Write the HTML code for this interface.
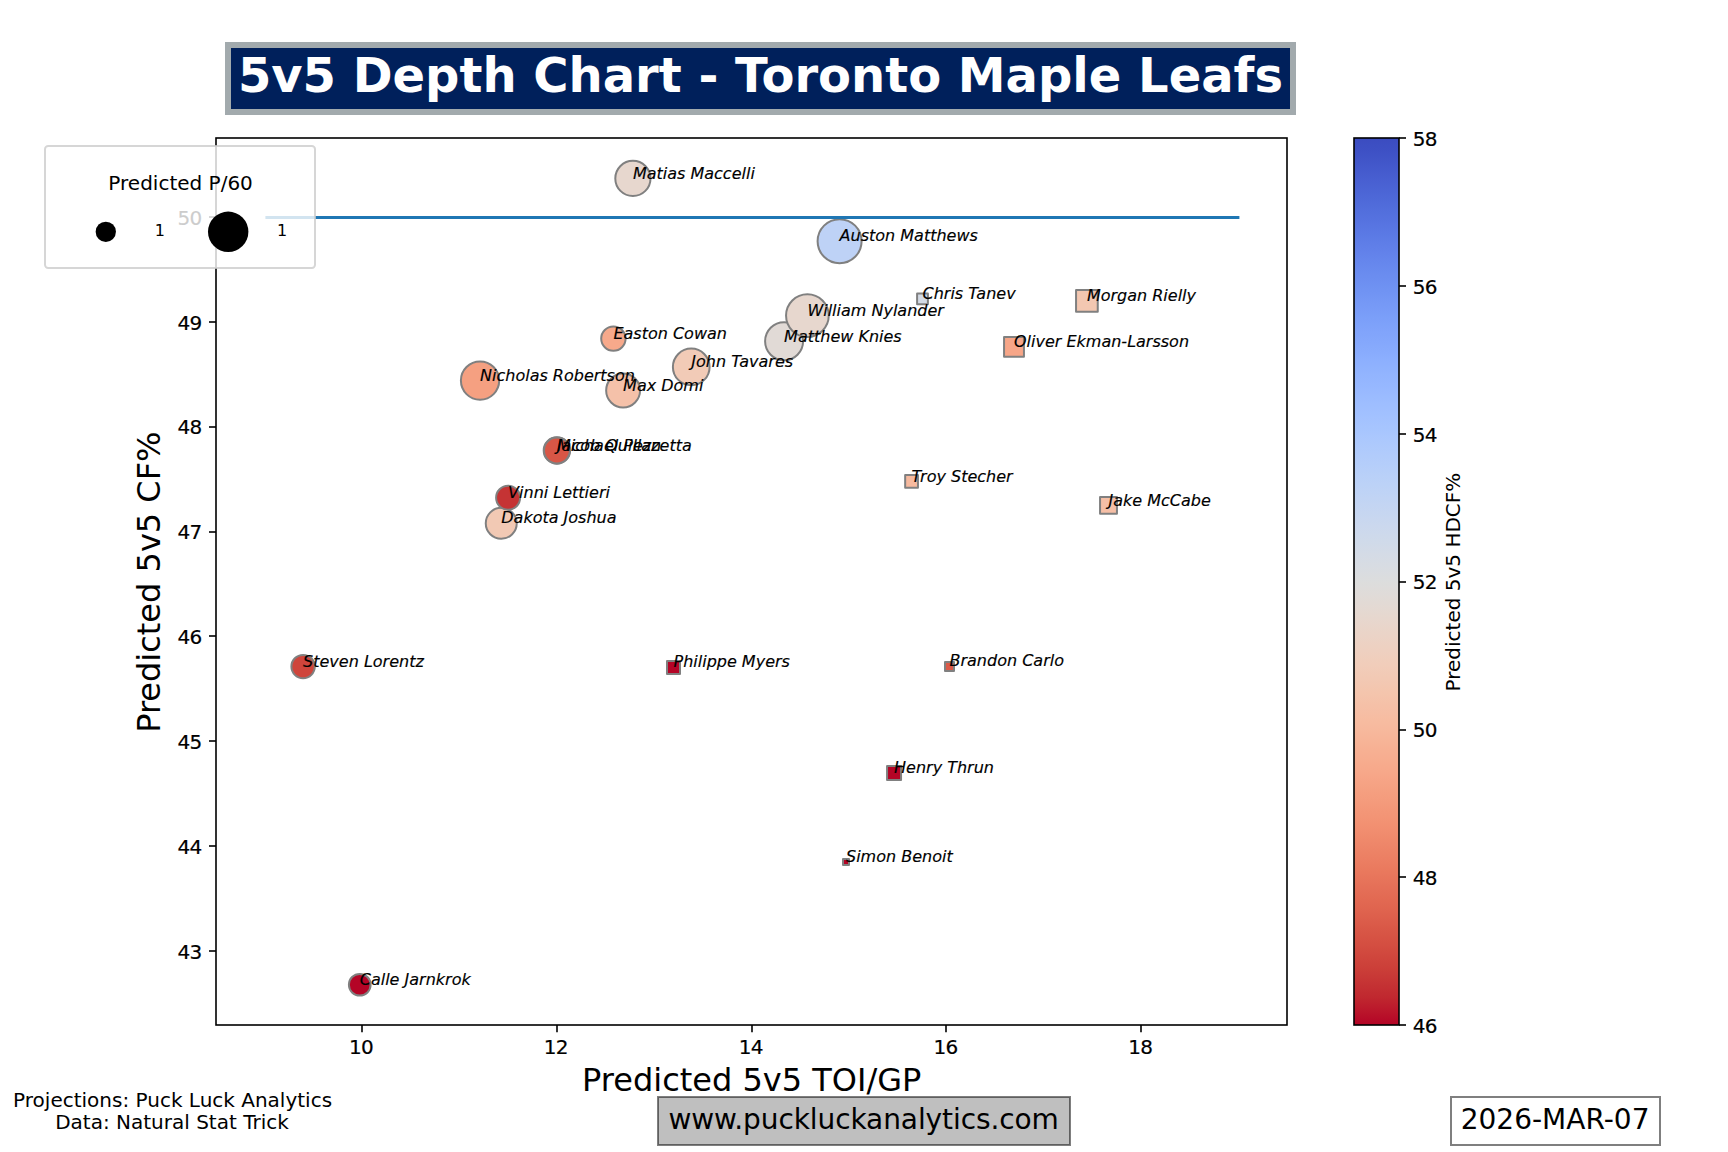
<!DOCTYPE html>
<html><head><meta charset="utf-8"><title>5v5 Depth Chart - Toronto Maple Leafs</title>
<style>html,body{margin:0;padding:0;background:#fff}svg{display:block}</style></head>
<body>
<svg width="1728" height="1152" viewBox="0 0 1728 1152" font-family="'DejaVu Sans','Liberation Sans',sans-serif">
<rect width="1728" height="1152" fill="#fff"/>
<defs><linearGradient id="cb" x1="0" y1="0" x2="0" y2="1"><stop offset="0.0000" stop-color="#3b4cc0"/><stop offset="0.0156" stop-color="#3e51c5"/><stop offset="0.0312" stop-color="#4358cb"/><stop offset="0.0469" stop-color="#485fd1"/><stop offset="0.0625" stop-color="#4c66d6"/><stop offset="0.0781" stop-color="#516ddb"/><stop offset="0.0938" stop-color="#5673e0"/><stop offset="0.1094" stop-color="#5b7ae5"/><stop offset="0.1250" stop-color="#6180e9"/><stop offset="0.1406" stop-color="#6687ed"/><stop offset="0.1562" stop-color="#6b8df0"/><stop offset="0.1719" stop-color="#7093f3"/><stop offset="0.1875" stop-color="#7699f6"/><stop offset="0.2031" stop-color="#7b9ff9"/><stop offset="0.2188" stop-color="#81a4fb"/><stop offset="0.2344" stop-color="#86a9fc"/><stop offset="0.2500" stop-color="#8caffe"/><stop offset="0.2656" stop-color="#92b4fe"/><stop offset="0.2812" stop-color="#97b8ff"/><stop offset="0.2969" stop-color="#9dbdff"/><stop offset="0.3125" stop-color="#a2c1ff"/><stop offset="0.3281" stop-color="#a7c5fe"/><stop offset="0.3438" stop-color="#adc9fd"/><stop offset="0.3594" stop-color="#b2ccfb"/><stop offset="0.3750" stop-color="#b7cff9"/><stop offset="0.3906" stop-color="#bcd2f7"/><stop offset="0.4062" stop-color="#c1d4f4"/><stop offset="0.4219" stop-color="#c6d6f1"/><stop offset="0.4375" stop-color="#cbd8ee"/><stop offset="0.4531" stop-color="#cfdaea"/><stop offset="0.4688" stop-color="#d4dbe6"/><stop offset="0.4844" stop-color="#d8dce2"/><stop offset="0.5000" stop-color="#dcdddd"/><stop offset="0.5156" stop-color="#e0dbd8"/><stop offset="0.5312" stop-color="#e4d9d2"/><stop offset="0.5469" stop-color="#e8d6cc"/><stop offset="0.5625" stop-color="#ebd3c6"/><stop offset="0.5781" stop-color="#eed0c0"/><stop offset="0.5938" stop-color="#f1cdba"/><stop offset="0.6094" stop-color="#f2c9b4"/><stop offset="0.6250" stop-color="#f4c5ad"/><stop offset="0.6406" stop-color="#f5c0a7"/><stop offset="0.6562" stop-color="#f7bca1"/><stop offset="0.6719" stop-color="#f7b79b"/><stop offset="0.6875" stop-color="#f7b194"/><stop offset="0.7031" stop-color="#f7ac8e"/><stop offset="0.7188" stop-color="#f7a688"/><stop offset="0.7344" stop-color="#f5a081"/><stop offset="0.7500" stop-color="#f49a7b"/><stop offset="0.7656" stop-color="#f39475"/><stop offset="0.7812" stop-color="#f18d6f"/><stop offset="0.7969" stop-color="#ee8669"/><stop offset="0.8125" stop-color="#ec7f63"/><stop offset="0.8281" stop-color="#e9785d"/><stop offset="0.8438" stop-color="#e57058"/><stop offset="0.8594" stop-color="#e26952"/><stop offset="0.8750" stop-color="#de614d"/><stop offset="0.8906" stop-color="#d95847"/><stop offset="0.9062" stop-color="#d55042"/><stop offset="0.9219" stop-color="#d0473d"/><stop offset="0.9375" stop-color="#cb3e38"/><stop offset="0.9531" stop-color="#c53334"/><stop offset="0.9688" stop-color="#c0282f"/><stop offset="0.9844" stop-color="#ba162b"/><stop offset="1.0000" stop-color="#b40426"/></linearGradient></defs>
<circle cx="632.9" cy="178.4" r="17.60" fill="#e7d7ce" stroke="#808080" stroke-width="2"/>
<circle cx="839.6" cy="241.2" r="22.00" fill="#bed2f6" stroke="#808080" stroke-width="2"/>
<circle cx="784.1" cy="341.25" r="19.00" fill="#e1dad6" stroke="#808080" stroke-width="2"/>
<circle cx="807.4" cy="315.6" r="21.35" fill="#e7d7ce" stroke="#808080" stroke-width="2"/>
<circle cx="613.4" cy="338.6" r="12.20" fill="#f7a98b" stroke="#808080" stroke-width="2"/>
<circle cx="691.25" cy="366.9" r="18.35" fill="#f2cbb7" stroke="#808080" stroke-width="2"/>
<circle cx="480.05" cy="380.6" r="19.15" fill="#f5a081" stroke="#808080" stroke-width="2"/>
<circle cx="623.1" cy="390.5" r="16.95" fill="#f5c1a9" stroke="#808080" stroke-width="2"/>
<circle cx="556.9" cy="450.5" r="13.20" fill="#d85646" stroke="#808080" stroke-width="2"/>
<circle cx="556.9" cy="450.5" r="12.90" fill="#d85646" stroke="#808080" stroke-width="2"/>
<circle cx="501.25" cy="523.3" r="15.50" fill="#f2c9b4" stroke="#808080" stroke-width="2"/>
<circle cx="508.1" cy="497.7" r="12.00" fill="#c53334" stroke="#808080" stroke-width="2"/>
<circle cx="303.1" cy="666.6" r="11.70" fill="#cf453c" stroke="#808080" stroke-width="2"/>
<circle cx="359.75" cy="984.75" r="10.85" fill="#b40426" stroke="#808080" stroke-width="2"/>
<rect x="917.10" y="293.50" width="10.80" height="10.80" fill="#d4dbe6" stroke="#808080" stroke-width="2" stroke-linejoin="round"/>
<rect x="1076.05" y="290.05" width="21.70" height="21.70" fill="#f3c7b1" stroke="#808080" stroke-width="2" stroke-linejoin="round"/>
<rect x="1004.05" y="336.95" width="19.90" height="19.90" fill="#f7a688" stroke="#808080" stroke-width="2" stroke-linejoin="round"/>
<rect x="905.16" y="475.00" width="12.80" height="12.80" fill="#f7ba9f" stroke="#808080" stroke-width="2" stroke-linejoin="round"/>
<rect x="1100.05" y="496.95" width="16.90" height="16.90" fill="#f6bfa6" stroke="#808080" stroke-width="2" stroke-linejoin="round"/>
<rect x="667.00" y="661.00" width="13.00" height="13.00" fill="#b40426" stroke="#808080" stroke-width="2" stroke-linejoin="round"/>
<rect x="945.00" y="661.90" width="9.00" height="9.00" fill="#da5a49" stroke="#808080" stroke-width="2" stroke-linejoin="round"/>
<rect x="887.05" y="766.00" width="14.00" height="14.00" fill="#b40426" stroke="#808080" stroke-width="2" stroke-linejoin="round"/>
<rect x="843.00" y="858.90" width="6.00" height="6.00" fill="#b40426" stroke="#808080" stroke-width="2" stroke-linejoin="round"/>
<line x1="265.4" y1="217.5" x2="1239.4" y2="217.5" stroke="#1f77b4" stroke-width="3"/>
<g font-size="16" font-style="italic" fill="#000" stroke="#000" stroke-width="0.15">
<text x="632.90" y="179">Matias Maccelli</text>
<text x="839.60" y="241">Auston Matthews</text>
<text x="784.10" y="342">Matthew Knies</text>
<text x="807.40" y="316">William Nylander</text>
<text x="613.40" y="339">Easton Cowan</text>
<text x="691.25" y="367">John Tavares</text>
<text x="480.05" y="381">Nicholas Robertson</text>
<text x="623.10" y="391">Max Domi</text>
<text x="556.90" y="451">Jacob Quillan</text>
<text x="556.90" y="451">Michael Pezzetta</text>
<text x="501.25" y="523">Dakota Joshua</text>
<text x="508.10" y="498">Vinni Lettieri</text>
<text x="303.10" y="667">Steven Lorentz</text>
<text x="359.75" y="985">Calle Jarnkrok</text>
<text x="922.50" y="299">Chris Tanev</text>
<text x="1086.90" y="301">Morgan Rielly</text>
<text x="1014.00" y="347">Oliver Ekman-Larsson</text>
<text x="911.56" y="482">Troy Stecher</text>
<text x="1108.50" y="506">Jake McCabe</text>
<text x="673.50" y="667">Philippe Myers</text>
<text x="949.50" y="666">Brandon Carlo</text>
<text x="894.05" y="773">Henry Thrun</text>
<text x="846.00" y="862">Simon Benoit</text>
</g>
<rect x="216" y="138" width="1071" height="887" fill="none" stroke="#000" stroke-width="1.6"/>
<g stroke="#000" stroke-width="1.6">
<line x1="362" y1="1025" x2="362" y2="1032.3"/>
<line x1="557" y1="1025" x2="557" y2="1032.3"/>
<line x1="752" y1="1025" x2="752" y2="1032.3"/>
<line x1="946" y1="1025" x2="946" y2="1032.3"/>
<line x1="1141" y1="1025" x2="1141" y2="1032.3"/>
<line x1="216" y1="951" x2="209" y2="951"/>
<line x1="216" y1="846" x2="209" y2="846"/>
<line x1="216" y1="741" x2="209" y2="741"/>
<line x1="216" y1="636" x2="209" y2="636"/>
<line x1="216" y1="532" x2="209" y2="532"/>
<line x1="216" y1="427" x2="209" y2="427"/>
<line x1="216" y1="322" x2="209" y2="322"/>
<line x1="216" y1="217" x2="209" y2="217"/>
</g>
<g font-size="20" fill="#000" letter-spacing="-0.7" stroke="#000" stroke-width="0.2">
<text x="361.09" y="1054" text-anchor="middle">10</text>
<text x="555.89" y="1054" text-anchor="middle">12</text>
<text x="750.68" y="1054" text-anchor="middle">14</text>
<text x="945.47" y="1054" text-anchor="middle">16</text>
<text x="1140.27" y="1054" text-anchor="middle">18</text>
<text x="201.5" y="959" text-anchor="end">43</text>
<text x="201.5" y="854" text-anchor="end">44</text>
<text x="201.5" y="749" text-anchor="end">45</text>
<text x="201.5" y="644" text-anchor="end">46</text>
<text x="201.5" y="539" text-anchor="end">47</text>
<text x="201.5" y="434" text-anchor="end">48</text>
<text x="201.5" y="330" text-anchor="end">49</text>
<text x="201.5" y="225" text-anchor="end">50</text>
</g>
<text x="751.68" y="1090.6" font-size="32" text-anchor="middle">Predicted 5v5 TOI/GP</text>
<text transform="translate(159.8,582.16) rotate(-90)" font-size="32" text-anchor="middle">Predicted 5v5 CF%</text>
<rect x="1354" y="138" width="45" height="887" fill="url(#cb)" stroke="#000" stroke-width="1.6"/>
<g stroke="#000" stroke-width="1.6">
<line x1="1399" y1="1025" x2="1406" y2="1025"/>
<line x1="1399" y1="877" x2="1406" y2="877"/>
<line x1="1399" y1="730" x2="1406" y2="730"/>
<line x1="1399" y1="582" x2="1406" y2="582"/>
<line x1="1399" y1="434" x2="1406" y2="434"/>
<line x1="1399" y1="286" x2="1406" y2="286"/>
<line x1="1399" y1="138" x2="1406" y2="138"/>
</g>
<g font-size="20" fill="#000" letter-spacing="-0.7" stroke="#000" stroke-width="0.2">
<text x="1412.67" y="1033">46</text>
<text x="1412.67" y="885">48</text>
<text x="1412.67" y="737">50</text>
<text x="1412.67" y="589">52</text>
<text x="1412.67" y="442">54</text>
<text x="1412.67" y="294">56</text>
<text x="1412.67" y="146">58</text>
</g>
<text transform="translate(1459.6,582.06) rotate(-90)" font-size="20" text-anchor="middle">Predicted 5v5 HDCF%</text>
<rect x="45" y="146" width="270" height="122" rx="3.2" ry="3.2" fill="#fff" fill-opacity="0.8" stroke="#ccc" stroke-opacity="0.8" stroke-width="2"/>
<text x="180.6" y="189.9" font-size="20" text-anchor="middle">Predicted P/60</text>
<circle cx="105.8" cy="231.8" r="10.15" fill="#000"/>
<circle cx="228.2" cy="231.8" r="20.2" fill="#000"/>
<text x="154.8" y="236" font-size="16">1</text>
<text x="277.0" y="236" font-size="16">1</text>
<rect x="228" y="45" width="1065" height="67" fill="#00205b" stroke="#a2aaad" stroke-width="6"/>
<text x="760.5" y="92.4" font-size="48" font-weight="bold" fill="#fff" text-anchor="middle">5v5 Depth Chart - Toronto Maple Leafs</text>
<text x="172.6" y="1106.8" font-size="20" text-anchor="middle">Projections: Puck Luck Analytics</text>
<text x="172.0" y="1129" font-size="20" text-anchor="middle">Data: Natural Stat Trick</text>
<rect x="658" y="1097" width="412" height="48" fill="#808080" fill-opacity="0.5" stroke="#000" stroke-opacity="0.5" stroke-width="2"/>
<text x="668.4" y="1129" font-size="28" letter-spacing="-0.09">www.puckluckanalytics.com</text>
<rect x="1451" y="1097" width="209" height="48" fill="#fff" stroke="#000" stroke-opacity="0.5" stroke-width="2"/>
<text x="1555.1" y="1129" font-size="28" text-anchor="middle">2026-MAR-07</text>
</svg>
</body></html>
